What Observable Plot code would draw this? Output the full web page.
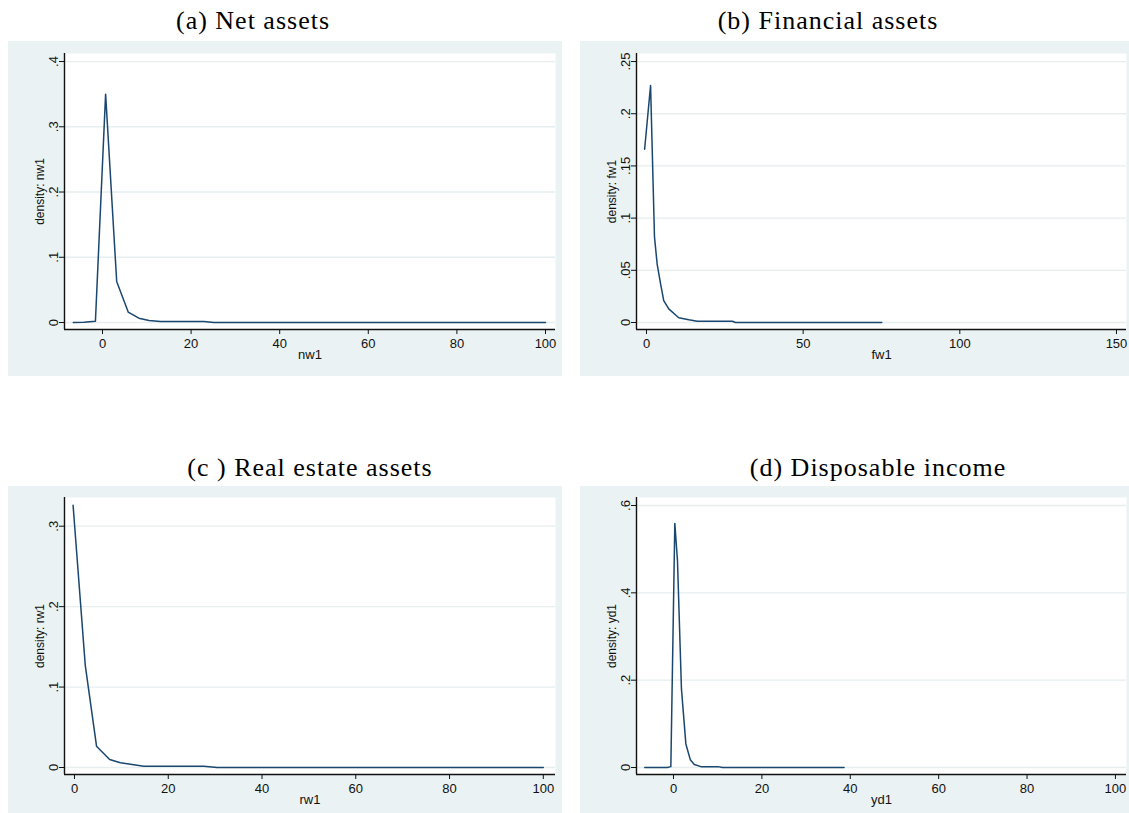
<!DOCTYPE html>
<html>
<head>
<meta charset="utf-8">
<script src="https://cdn.jsdelivr.net/npm/d3@7"></script>
<script src="https://cdn.jsdelivr.net/npm/@observablehq/plot@0.6"></script>
<style>
  html, body { margin: 0; padding: 0; background: #ffffff; }
  #root { position: relative; width: 1129px; height: 813px; overflow: hidden; background: #ffffff; }
  .title { position: absolute; width: 400px; text-align: center; font-family: "Liberation Serif", "Times New Roman", serif;
           font-size: 26px; line-height: 26px; letter-spacing: 1px; color: #000; white-space: nowrap; }
  .panel { position: absolute; }
</style>
</head>
<body>
<div id="root"></div>
<script>
// ---- data ----
const panelTitles = ["(a) Net assets", "(b) Financial assets", "(c ) Real estate assets", "(d) Disposable income"];
const xVarNames = ["nw1", "fw1", "rw1", "yd1"];
const yAxisTitles = ["density: nw1", "density: fw1", "density: rw1", "density: yd1"];

// (a) Net assets
const netX = [-6.6, -4.2, -1.6, 0.7, 3.2, 5.8, 8.2, 10.5, 13.1, 22.9, 25.1, 100];
const netY = [0, 0.0003, 0.002, 0.350, 0.063, 0.016, 0.0066, 0.003, 0.0015, 0.0015, 0, 0];
const netXTicks = [0, 20, 40, 60, 80, 100];
const netYTicks = [0, 0.1, 0.2, 0.3, 0.4];
const netYTickLabels = ["0", ".1", ".2", ".3", ".4"];

// (b) Financial assets
const finX = [-0.6, 1.3, 2.55, 3.4, 4.5, 5.5, 7.1, 10.3, 13.5, 16.2, 27.4, 28.4, 75.1];
const finY = [0.166, 0.227, 0.082, 0.056, 0.037, 0.021, 0.013, 0.0045, 0.0026, 0.0012, 0.0012, 0, 0];
const finXTicks = [0, 50, 100, 150];
const finYTicks = [0, 0.05, 0.1, 0.15, 0.2, 0.25];
const finYTickLabels = ["0", ".05", ".1", ".15", ".2", ".25"];

// (c) Real estate assets
const realX = [-0.3, 2.3, 4.7, 7.5, 9.8, 14.8, 27.6, 30.4, 100];
const realY = [0.326, 0.127, 0.0265, 0.010, 0.0058, 0.0016, 0.0016, 0, 0];
const realXTicks = [0, 20, 40, 60, 80, 100];
const realYTicks = [0, 0.1, 0.2, 0.3];
const realYTickLabels = ["0", ".1", ".2", ".3"];

// (d) Disposable income
const incX = [-6.5, -1.4, -0.6, 0.3, 0.9, 1.8, 2.8, 3.8, 4.7, 6.2, 10.1, 11.1, 38.6];
const incY = [0, 0, 0.002, 0.559, 0.474, 0.180, 0.054, 0.018, 0.007, 0.002, 0.002, 0, 0];
const incXTicks = [0, 20, 40, 60, 80, 100];
const incYTicks = [0, 0.2, 0.4, 0.6];
const incYTickLabels = ["0", ".2", ".4", ".6"];

// ---- layout / style ----
const BG = "#eaf2f3";
const GRID = "#e6eef0";
const LINE = "#1a476f";
const AXIS = "#111111";

const panels = [
  { xs: netX, ys: netY, xt: netXTicks, yt: netYTicks, ytl: netYTickLabels,
    xdom: [-8.58, 102.26], ydom: [-0.0107, 0.4123],
    box: { left: 8, top: 41, width: 554, height: 335 }, m: { l: 56, r: 7, t: 12, b: 47 },
    title: { cx: 253, base: 30 } },
  { xs: finX, ys: finY, xt: finXTicks, yt: finYTicks, ytl: finYTickLabels,
    xdom: [-3.19, 153.2], ydom: [-0.0067, 0.2577],
    box: { left: 580, top: 41, width: 549, height: 335 }, m: { l: 56, r: 3, t: 12, b: 47 },
    title: { cx: 828, base: 30 } },
  { xs: realX, ys: realY, xt: realXTicks, yt: realYTicks, ytl: realYTickLabels,
    xdom: [-2.13, 102.6], ydom: [-0.0087, 0.3357],
    box: { left: 8, top: 486, width: 554, height: 327 }, m: { l: 56, r: 7, t: 11, b: 39 },
    title: { cx: 310, base: 477 } },
  { xs: incX, ys: incY, xt: incXTicks, yt: incYTicks, ytl: incYTickLabels,
    xdom: [-8.37, 102.5], ydom: [-0.016, 0.6183],
    box: { left: 580, top: 486, width: 549, height: 327 }, m: { l: 56, r: 3, t: 11, b: 39 },
    title: { cx: 878, base: 477 } }
];

const root = document.getElementById("root");

panels.forEach((p, k) => {
  const rows = p.xs.map((x, i) => ({ x, y: p.ys[i] }));
  const chart = Plot.plot({
    width: p.box.width,
    height: p.box.height,
    marginLeft: p.m.l, marginRight: p.m.r, marginTop: p.m.t, marginBottom: p.m.b,
    style: { background: BG, fontFamily: "'Liberation Sans', Arial, sans-serif", fontSize: "13px", color: AXIS, overflow: "visible" },
    x: { domain: p.xdom },
    y: { domain: p.ydom },
    marks: [
      Plot.frame({ fill: "white", stroke: null }),
      Plot.gridY(p.yt, { stroke: GRID, strokeOpacity: 1, strokeWidth: 1.3 }),
      Plot.line(rows, { x: "x", y: "y", stroke: LINE, strokeWidth: 1.5 }),
      Plot.ruleX([p.xdom[0]], { stroke: AXIS, strokeWidth: 1.4 }),
      Plot.ruleY([p.ydom[0]], { stroke: AXIS, strokeWidth: 1.4 }),
      Plot.axisX(p.xt, { tickSize: 5, tickPadding: 4, tickFormat: d => String(d), label: null, fontSize: 13, stroke: AXIS }),
      Plot.axisY(p.yt, { tickSize: 5, tickFormat: () => "", label: null, stroke: AXIS }),
      Plot.text(p.yt, { y: d => d, frameAnchor: "left", text: (d, i) => p.ytl[i], rotate: -90, dx: -11,
                        textAnchor: "middle", lineAnchor: "middle", fontSize: 13, fill: AXIS }),
      Plot.text([yAxisTitles[k]], { frameAnchor: "left", text: d => d, rotate: -90, dx: -24,
                        textAnchor: "middle", lineAnchor: "middle", fontSize: 12, fill: AXIS }),
      Plot.text([xVarNames[k]], { frameAnchor: "bottom", text: d => d, dy: 25,
                        textAnchor: "middle", lineAnchor: "middle", fontSize: 13, fill: AXIS })
    ]
  });
  const wrap = document.createElement("div");
  wrap.className = "panel";
  wrap.style.left = p.box.left + "px";
  wrap.style.top = p.box.top + "px";
  wrap.style.width = p.box.width + "px";
  wrap.style.height = p.box.height + "px";
  wrap.appendChild(chart);
  root.appendChild(wrap);

  const t = document.createElement("div");
  t.className = "title";
  t.textContent = panelTitles[k];
  t.style.left = (p.title.cx - 200) + "px";
  t.style.top = (p.title.base - 22) + "px";
  root.appendChild(t);
});
</script>
</body>
</html>
